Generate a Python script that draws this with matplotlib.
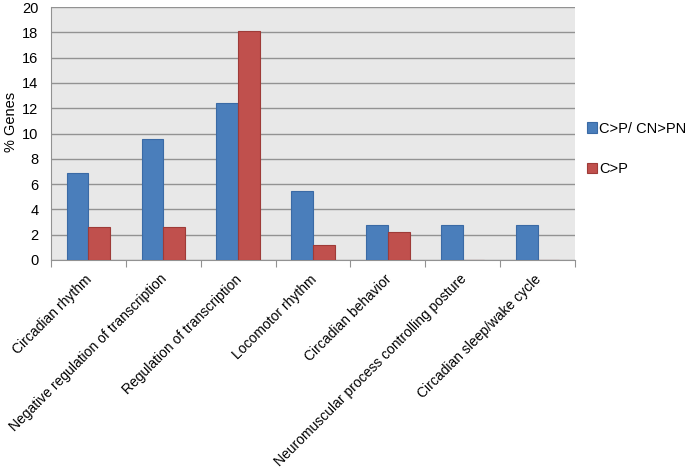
import matplotlib
matplotlib.use("Agg")
import matplotlib.pyplot as plt
import numpy as np

plt.rcParams['font.family'] = ['Liberation Sans', 'DejaVu Sans']

categories = ["Circadian rhythm", "Negative regulation of transcription", "Regulation of transcription",
              "Locomotor rhythm", "Circadian behavior", "Neuromuscular process controlling posture",
              "Circadian sleep/wake cycle"]
series1_name = "C>P/ CN>PN"
series2_name = "C>P"
series1 = [6.9, 9.6, 12.4, 5.45, 2.8, 2.8, 2.8]
series2 = [2.6, 2.6, 18.1, 1.15, 2.2, 0, 0]
yticks = [0, 2, 4, 6, 8, 10, 12, 14, 16, 18, 20]

fig = plt.figure(figsize=(6.85, 4.74), dpi=100)
ax = fig.add_axes([0.0745, 0.4515, 0.765, 0.5335])
ax.set_facecolor('#e8e8e8')
x = np.arange(len(categories))
w = 0.29
ax.bar(x - w/2, series1, w, color='#4a7ebb', edgecolor='#3a6aa5', linewidth=0.8, label=series1_name, zorder=3)
ax.bar(x + w/2, series2, w, color='#c0504d', edgecolor='#9e3b38', linewidth=0.8, label=series2_name, zorder=3)
ax.set_xlim(-0.5, len(categories) - 0.5)
ax.set_ylim(0, 20)
ax.set_yticks(yticks)
ax.yaxis.grid(True, color='#929292', linewidth=1.0, zorder=0)
ax.set_xticks(np.arange(len(categories) + 1) - 0.5, minor=False)
ax.set_xticklabels([])
ax.tick_params(axis='x', length=5, color='#929292', direction='out')
ax.tick_params(axis='y', length=0, labelsize=10.5, pad=9)
for i, c in enumerate(categories):
    ax.text(i - 0.05, -0.95, c, rotation=45, ha='right', va='top', fontsize=10, rotation_mode='anchor')
for s in ['top', 'right']:
    ax.spines[s].set_visible(False)
ax.spines['left'].set_color('#929292')
ax.spines['bottom'].set_color('#929292')
fig.text(0.006, 0.743, "% Genes", rotation=90, fontsize=10.5, ha='left', va='center')
ax.legend(loc='center left', bbox_to_anchor=(0.997, 0.44), frameon=False, fontsize=10.5,
          handlelength=0.7, handleheight=0.7, handletextpad=0.15, labelspacing=1.8)
fig.savefig("out.png", dpi=100)
